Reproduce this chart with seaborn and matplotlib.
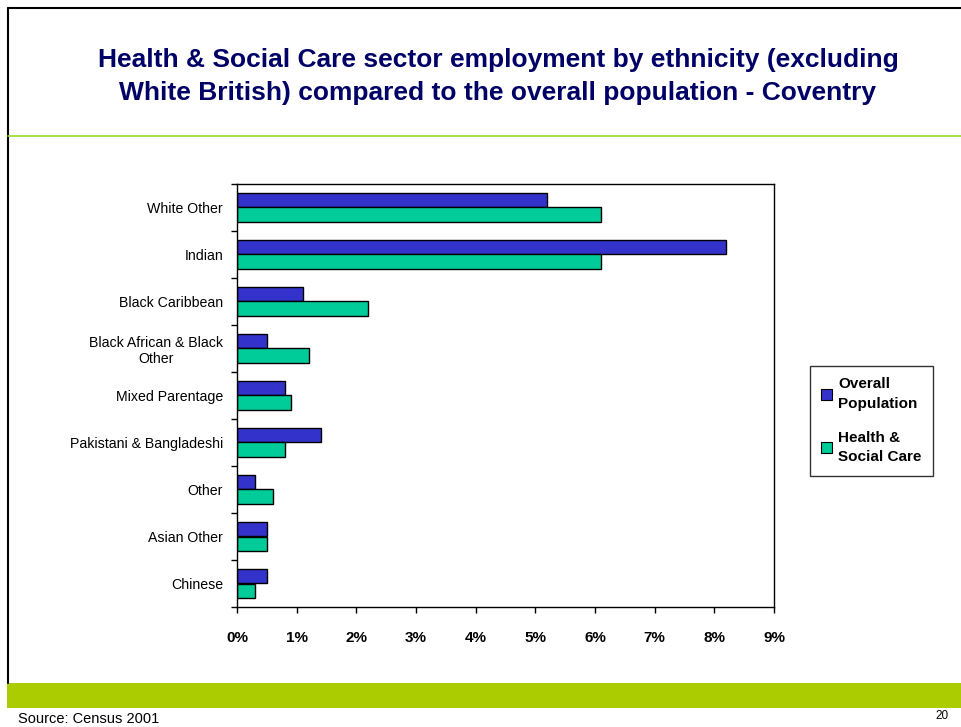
import matplotlib
matplotlib.use("Agg")
import matplotlib.pyplot as plt
from matplotlib.lines import Line2D
from matplotlib.patches import Rectangle, Patch
from matplotlib.ticker import FixedLocator, PercentFormatter
import pandas as pd
import seaborn as sns

# Ethnic groups (excluding White British), top to bottom
groups = [
    "White Other",
    "Indian",
    "Black Caribbean",
    "Black African & Black\nOther",
    "Mixed Parentage",
    "Pakistani & Bangladeshi",
    "Other",
    "Asian Other",
    "Chinese",
]
# Share of each group (%)
overall_population = [5.2, 8.2, 1.1, 0.5, 0.8, 1.4, 0.3, 0.5, 0.5]
health_social_care = [6.1, 6.1, 2.2, 1.2, 0.9, 0.8, 0.6, 0.5, 0.3]
series_names = ["Overall\nPopulation", "Health &\nSocial Care"]
series_colors = ["#3333CC", "#00CC99"]
x_ticks = list(range(0, 10))

df = pd.DataFrame({
    "Ethnicity": groups * 2,
    "Series": [series_names[0]] * len(groups) + [series_names[1]] * len(groups),
    "Share": overall_population + health_social_care,
})

sns.set_theme(style="white")
plt.rcParams["font.family"] = ["Liberation Sans", "DejaVu Sans"]
plt.rcParams["text.color"] = "black"
plt.rcParams["xtick.color"] = "black"
plt.rcParams["ytick.color"] = "black"
plt.rcParams["axes.labelcolor"] = "black"

W, H = 961, 727
fig = plt.figure(figsize=(W / 100, H / 100), dpi=100)
fig.patch.set_facecolor("white")

ax = fig.add_axes([237 / W, 1 - 607 / H, (774 - 237) / W, (607 - 184) / H])
sns.barplot(
    data=df, y="Ethnicity", x="Share", hue="Series", orient="h",
    palette=series_colors, saturation=1, edgecolor="black", linewidth=1.0,
    width=0.6, ax=ax, legend=False,
)

ax.set_xlim(0, 9)
ax.set_ylim(len(groups) - 0.5, -0.5)
ax.set_xlabel("")
ax.set_ylabel("")
ax.xaxis.set_major_locator(FixedLocator(x_ticks))
ax.xaxis.set_major_formatter(PercentFormatter(decimals=0))
ax.tick_params(axis="x", which="major", direction="out", length=4, width=1,
               color="black", labelcolor="black", labelsize=11, pad=13, bottom=True)
for lbl in ax.get_xticklabels():
    lbl.set_fontweight("bold")
ax.set_yticks(range(len(groups)), groups)
ax.tick_params(axis="y", which="major", length=0, labelsize=10.2, pad=10,
               labelcolor="black")
for lbl in ax.get_yticklabels():
    lbl.set_multialignment("center")
ax.yaxis.set_minor_locator(FixedLocator([i - 0.5 for i in range(len(groups) + 1)]))
ax.tick_params(axis="y", which="minor", direction="out", length=4, width=1,
               color="black", left=True)
for s in ax.spines.values():
    s.set_visible(True)
    s.set_color("black")
    s.set_linewidth(1.0)

# Legend
handles = [Patch(facecolor=c, edgecolor="black", linewidth=0.8) for c in series_colors]
leg = fig.legend(
    handles, series_names, loc="upper left",
    bbox_to_anchor=(810 / W, 1 - 366 / H),
    frameon=True, fancybox=False, shadow=False,
    prop={"weight": "bold", "size": 11},
    handlelength=0.7, handleheight=0.7, handletextpad=0.4,
    labelspacing=1.3, borderpad=0.75, borderaxespad=0,
)
for t in leg.get_texts():
    t.set_linespacing(1.5)
leg.get_frame().set_edgecolor("black")
leg.get_frame().set_linewidth(1.0)

# Title
title_color = "#000066"
fig.text(498 / W, 1 - 60 / H,
         "Health & Social Care sector employment by ethnicity (excluding",
         ha="center", va="center", fontsize=19, fontweight="bold", color=title_color)
fig.text(498 / W, 1 - 93 / H,
         "White British) compared to the overall population - Coventry",
         ha="center", va="center", fontsize=19, fontweight="bold", color=title_color)

# Slide frame and decorations
fig.add_artist(Line2D([8 / W, 1], [1 - 8 / H, 1 - 8 / H], color="black", lw=1.5))
fig.add_artist(Line2D([8 / W, 8 / W], [1 - 8 / H, 1 - 683 / H], color="black", lw=1.5))
fig.add_artist(Line2D([8 / W, 1], [1 - 136 / H, 1 - 136 / H], color="#99DD22", lw=1.2))
fig.add_artist(Rectangle((7 / W, 1 - 708 / H), 1, 25 / H, transform=fig.transFigure,
                         facecolor="#AACC00", edgecolor="none"))

fig.text(18 / W, 1 - 719 / H, "Source: Census 2001", ha="left", va="center",
         fontsize=10.5, color="black")
fig.text(942 / W, 1 - 716 / H, "20", ha="center", va="center",
         fontsize=8.5, color="black")

fig.savefig("out.png", dpi=100, facecolor="white")
